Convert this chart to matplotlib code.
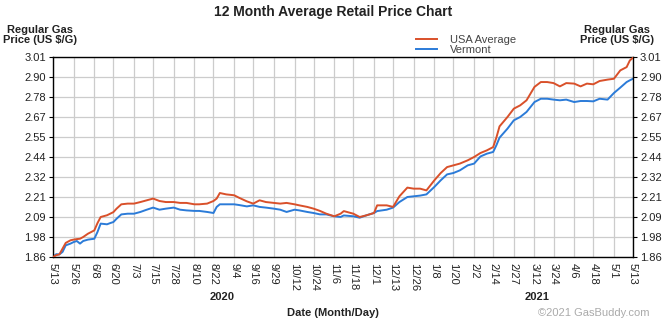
import numpy as np
import pandas as pd
import matplotlib
matplotlib.use('Agg')
import matplotlib.pyplot as plt
from matplotlib.transforms import blended_transform_factory

plt.rcParams['font.family'] = ['Liberation Sans', 'DejaVu Sans']

#sample dates (month/day) of the 12 month window
dates = ['2020-05-13', '2020-05-15', '2020-05-17', '2020-05-19', '2020-05-21',
         '2020-05-24', '2020-05-26', '2020-05-28', '2020-05-30', '2020-06-01',
         '2020-06-04', '2020-06-08', '2020-06-10', '2020-06-12', '2020-06-16',
         '2020-06-18', '2020-06-20', '2020-06-22', '2020-06-25', '2020-06-29',
         '2020-07-03', '2020-07-07', '2020-07-11', '2020-07-15', '2020-07-19',
         '2020-07-23', '2020-07-28', '2020-08-01', '2020-08-05', '2020-08-10',
         '2020-08-13', '2020-08-18', '2020-08-22', '2020-08-24', '2020-08-26',
         '2020-08-30', '2020-09-04', '2020-09-07', '2020-09-12', '2020-09-16',
         '2020-09-20', '2020-09-24', '2020-09-29', '2020-10-03', '2020-10-07',
         '2020-10-12', '2020-10-15', '2020-10-20', '2020-10-24', '2020-10-28',
         '2020-11-01', '2020-11-06', '2020-11-10', '2020-11-12', '2020-11-18',
         '2020-11-22', '2020-11-26', '2020-12-01', '2020-12-03', '2020-12-09',
         '2020-12-13', '2020-12-17', '2020-12-22', '2020-12-26', '2020-12-30',
         '2021-01-03', '2021-01-08', '2021-01-12', '2021-01-16', '2021-01-20',
         '2021-01-24', '2021-01-29', '2021-02-02', '2021-02-06', '2021-02-10',
         '2021-02-14', '2021-02-16', '2021-02-18', '2021-02-23', '2021-02-27',
         '2021-03-03', '2021-03-07', '2021-03-12', '2021-03-16', '2021-03-20',
         '2021-03-24', '2021-03-28', '2021-04-01', '2021-04-06', '2021-04-10',
         '2021-04-14', '2021-04-18', '2021-04-22', '2021-04-27', '2021-05-01',
         '2021-05-05', '2021-05-09', '2021-05-11', '2021-05-13']

#USA average price
usa_price = [1.860, 1.870, 1.875, 1.908, 1.941, 1.956, 1.960, 1.963, 1.965, 1.975,
             1.994, 2.013, 2.055, 2.090, 2.100, 2.109, 2.118, 2.138, 2.163, 2.167,
             2.167, 2.176, 2.186, 2.196, 2.182, 2.176, 2.176, 2.171, 2.171, 2.163,
             2.163, 2.167, 2.182, 2.196, 2.228, 2.220, 2.215, 2.201, 2.180, 2.167,
             2.186, 2.176, 2.171, 2.167, 2.171, 2.163, 2.157, 2.148, 2.138, 2.125,
             2.109, 2.094, 2.109, 2.124, 2.109, 2.090, 2.099, 2.113, 2.157, 2.157,
             2.148, 2.209, 2.259, 2.253, 2.253, 2.243, 2.301, 2.343, 2.377, 2.387,
             2.397, 2.416, 2.435, 2.458, 2.473, 2.492, 2.546, 2.611, 2.665, 2.713,
             2.732, 2.761, 2.838, 2.866, 2.866, 2.860, 2.841, 2.860, 2.857, 2.841,
             2.857, 2.853, 2.872, 2.880, 2.885, 2.933, 2.952, 2.990, 3.006]

#Vermont price
vt_price = [1.860, 1.876, 1.875, 1.889, 1.927, 1.937, 1.946, 1.952, 1.937, 1.952,
            1.960, 1.965, 2.004, 2.052, 2.048, 2.055, 2.061, 2.080, 2.105, 2.109,
            2.109, 2.119, 2.132, 2.144, 2.132, 2.138, 2.144, 2.132, 2.128, 2.125,
            2.125, 2.119, 2.113, 2.148, 2.163, 2.163, 2.163, 2.159, 2.151, 2.157,
            2.148, 2.144, 2.138, 2.132, 2.119, 2.132, 2.128, 2.119, 2.113, 2.105,
            2.105, 2.094, 2.090, 2.099, 2.094, 2.086, 2.099, 2.113, 2.124, 2.132,
            2.144, 2.176, 2.205, 2.209, 2.213, 2.220, 2.263, 2.301, 2.335, 2.343,
            2.358, 2.387, 2.397, 2.438, 2.454, 2.464, 2.502, 2.546, 2.598, 2.646,
            2.665, 2.694, 2.751, 2.770, 2.770, 2.765, 2.761, 2.765, 2.751, 2.757,
            2.757, 2.755, 2.770, 2.765, 2.803, 2.834, 2.866, 2.876, 2.885]

#x tick dates and labels
tick_dates = ['2020-05-13', '2020-05-26', '2020-06-08', '2020-06-20', '2020-07-03',
              '2020-07-15', '2020-07-28', '2020-08-10', '2020-08-22', '2020-09-04',
              '2020-09-16', '2020-09-29', '2020-10-12', '2020-10-24', '2020-11-06',
              '2020-11-18', '2020-12-01', '2020-12-13', '2020-12-26', '2021-01-08',
              '2021-01-20', '2021-02-02', '2021-02-14', '2021-02-27', '2021-03-12',
              '2021-03-24', '2021-04-06', '2021-04-18', '2021-05-01', '2021-05-13']
tick_labels = ['5/13', '5/26', '6/8', '6/20', '7/3', '7/15', '7/28', '8/10', '8/22',
               '9/4', '9/16', '9/29', '10/12', '10/24', '11/6', '11/18', '12/1',
               '12/13', '12/26', '1/8', '1/20', '2/2', '2/14', '2/27', '3/12',
               '3/24', '4/6', '4/18', '5/1', '5/13']

#y ticks
y_ticks = [1.86, 1.98, 2.09, 2.21, 2.32, 2.44, 2.55, 2.67, 2.78, 2.90, 3.01]
y_labels = ['1.86', '1.98', '2.09', '2.21', '2.32', '2.44', '2.55', '2.67', '2.78', '2.90', '3.01']

x = pd.to_datetime(dates)
xt = pd.to_datetime(tick_dates)

fig = plt.figure(figsize=(6.65, 3.26), dpi=100)
ax = fig.add_axes([53/665, 1-257/326, 580/665, 200/326])

ax.plot(x, usa_price, color='#d9502a', lw=1.4, label='USA Average', zorder=3)
ax.plot(x, vt_price, color='#2b7bd8', lw=1.4, label='Vermont', zorder=2)

ax.set_xlim(xt[0], xt[-1])
ax.set_ylim(y_ticks[0], y_ticks[-1])

#grid through the tick positions
ax.set_xticks(xt)
ax.set_xticklabels(tick_labels, rotation=270, fontsize=8, color='#222222')
ax.set_yticks(np.linspace(y_ticks[0], y_ticks[-1], len(y_ticks)))
ax.set_yticklabels(y_labels, fontsize=8, color='#222222')
ax.tick_params(axis='y', which='both', length=3, right=True, labelright=True, pad=2)
ax.tick_params(axis='x', length=0, pad=4)
ax.grid(True, color='#cccccc', lw=0.9)
ax.set_axisbelow(True)
for sp in ax.spines.values():
    sp.set_color('black')
    sp.set_linewidth(1.0)

#titles and axis names
fig.text(333/665, 1-12/326, '12 Month Average Retail Price Chart', ha='center', va='center',
         fontsize=10, fontweight='bold', color='#222222')
fig.text(40/665, 1-35/326, 'Regular Gas\nPrice (US $/G)', ha='center', va='center',
         fontsize=8, fontweight='bold', color='#222222', linespacing=1.05)
fig.text(617/665, 1-35/326, 'Regular Gas\nPrice (US $/G)', ha='center', va='center',
         fontsize=8, fontweight='bold', color='#222222', linespacing=1.05)

trans = blended_transform_factory(ax.transAxes, fig.transFigure)
fig.text((222-53)/580, 1-297/326, '2020', transform=trans, ha='center', va='center',
         fontsize=8, fontweight='bold', color='#222222')
fig.text((537-53)/580, 1-297/326, '2021', transform=trans, ha='center', va='center',
         fontsize=8, fontweight='bold', color='#222222')
fig.text(333/665, 1-313/326, 'Date (Month/Day)', ha='center', va='center',
         fontsize=8, fontweight='bold', color='#222222')
fig.text(650/665, 1-313/326, '\u00a92021 GasBuddy.com', ha='right', va='center',
         fontsize=8, color='#aaaaaa')

#legend
fig.legend(loc='upper left', bbox_to_anchor=(410/665, 1-29/326), frameon=False,
           fontsize=8, handlelength=1.9, handletextpad=1.2, labelspacing=0.05,
           borderpad=0, labelcolor='#444444')

fig.savefig('out.png', dpi=100)
